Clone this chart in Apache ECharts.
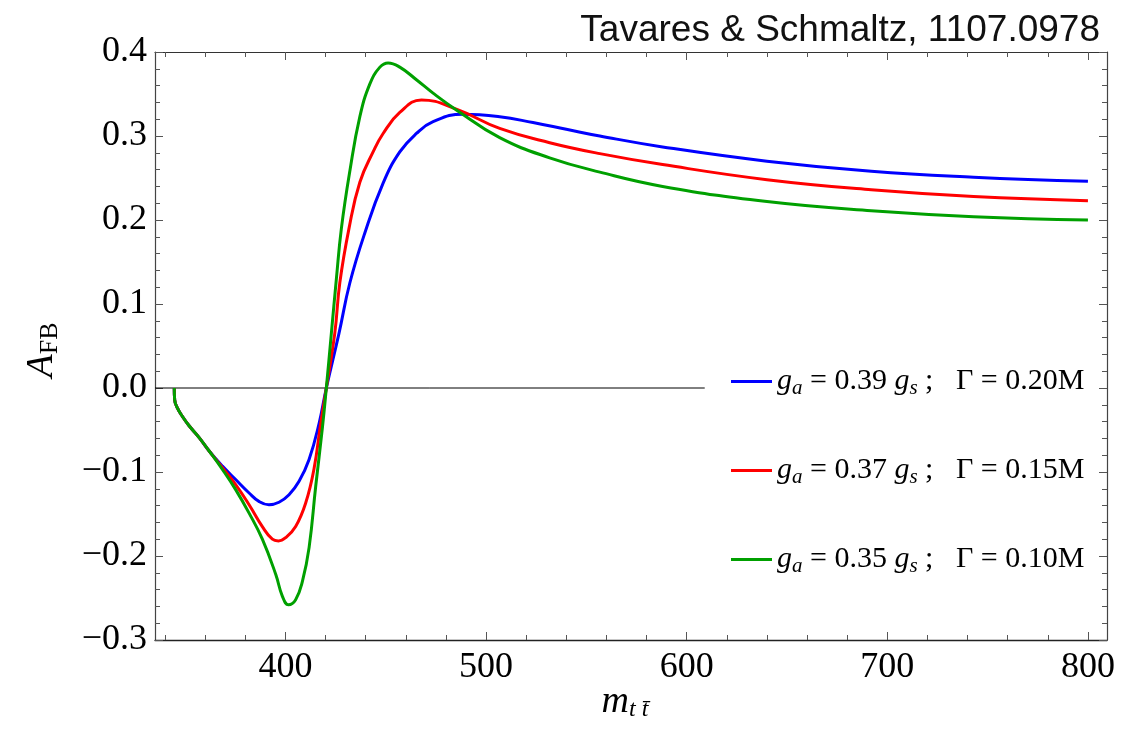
<!DOCTYPE html>
<html>
<head>
<meta charset="utf-8">
<script src="https://cdn.jsdelivr.net/npm/echarts@6/dist/echarts.min.js"></script>
<style>
  html, body { margin: 0; padding: 0; background: #fff; }
  #chart { width: 1143px; height: 733px; }
</style>
</head>
<body>
<div id="chart"></div>
<script>
// m_tt (GeV) vs A_FB
const blueCurve = [
  [344.6, 0], [344.8, -0.014], [346.2, -0.024], [348.7, -0.034], [352, -0.045], [357, -0.059],
  [362, -0.075], [368.6, -0.093], [375.2, -0.109], [381.9, -0.125], [386.8, -0.135], [391.8, -0.139],
  [396.8, -0.136], [401.8, -0.127], [406.8, -0.111], [411.8, -0.085], [416.8, -0.042], [420.4, 0],
  [426.7, 0.065], [432.1, 0.125], [439.5, 0.184], [448.7, 0.244], [457, 0.281], [465.3, 0.303],
  [473.6, 0.317], [488.5, 0.326], [506.8, 0.323], [523.4, 0.316], [540, 0.308], [556.7, 0.300],
  [588, 0.287], [640, 0.270], [692, 0.258], [743, 0.251], [800, 0.246]
];
const redCurve = [
  [344.6, 0], [344.8, -0.014], [346.2, -0.024], [348.7, -0.034], [352, -0.045], [357, -0.059],
  [362, -0.075], [368.6, -0.095], [375.2, -0.115], [381.9, -0.139], [388.5, -0.165], [393.5, -0.180],
  [396.5, -0.182], [400.2, -0.178], [405.1, -0.165], [410.1, -0.137], [414.2, -0.097], [417.6, -0.042],
  [420.4, 0], [424.6, 0.065], [427.1, 0.125], [431.7, 0.190], [437.1, 0.245], [443.7, 0.281],
  [448.7, 0.303], [457, 0.328], [467.8, 0.343], [485.2, 0.332], [506.8, 0.309], [531.7, 0.292],
  [556.7, 0.279], [588, 0.266], [640, 0.248], [692, 0.236], [743, 0.228], [800, 0.223]
];
const greenCurve = [
  [344.6, 0], [344.8, -0.014], [346.2, -0.024], [348.7, -0.034], [352, -0.045], [357, -0.059],
  [362, -0.075], [368.6, -0.097], [375.2, -0.121], [381.9, -0.149], [388.5, -0.180], [395.2, -0.222],
  [398.5, -0.248], [401.5, -0.258], [405.1, -0.252], [408.5, -0.230], [411.8, -0.190], [415.1, -0.117],
  [418.5, -0.046], [420.4, 0], [422.9, 0.065], [425.4, 0.130], [427.9, 0.190], [432.1, 0.258],
  [437.1, 0.323], [442.1, 0.362], [447.1, 0.382], [451.2, 0.387], [457, 0.382], [465.3, 0.367],
  [473.6, 0.351], [485.2, 0.331], [506.8, 0.298], [531.7, 0.274], [556.7, 0.257], [588, 0.240],
  [640, 0.222], [692, 0.211], [743, 0.204], [800, 0.200]
];
const zeroLine = [[335, 0], [609, 0]];

const seriesNames = [
  '{i|g}{sub|a}{r| = 0.39 }{i|g}{sub|s}{r| ;   Γ = 0.20M}',
  '{i|g}{sub|a}{r| = 0.37 }{i|g}{sub|s}{r| ;   Γ = 0.15M}',
  '{i|g}{sub|a}{r| = 0.35 }{i|g}{sub|s}{r| ;   Γ = 0.10M}'
];
const seriesColors = ['#0000FF', '#FF0000', '#00A000'];

const xMajorTicks = [400, 500, 600, 700, 800];
const xMinorTicks = [340, 360, 380, 420, 440, 460, 480, 520, 540, 560, 580,
  620, 640, 660, 680, 720, 740, 760, 780];

const serif = "'Liberation Serif', 'Times New Roman', serif";
const legendRich = {
  i: { fontFamily: serif, fontStyle: 'italic', fontSize: 30, color: '#000', lineHeight: 34 },
  r: { fontFamily: serif, fontSize: 30, color: '#000', lineHeight: 34 },
  sub: { fontFamily: serif, fontStyle: 'italic', fontSize: 21, color: '#000', lineHeight: 20, padding: [14, 0, 0, 0] }
};

function frameAxis (pos, values, len, showLine) {
  return {
    type: 'value', position: pos, min: 335, max: 809.5,
    axisLine: { show: showLine, onZero: false, lineStyle: { color: '#333', width: 1.2 } },
    axisTick: { show: true, inside: true, length: len, customValues: values, lineStyle: { color: '#555' } },
    axisLabel: { show: false },
    splitLine: { show: false }
  };
}

let myChart = echarts.init(document.getElementById('chart'));
let option = {
  backgroundColor: '#fff',
  animation: false,
  grid: { left: 155, right: 36, top: 52, bottom: 93, outerBoundsMode: 'none' },
  xAxis: [
    {
      type: 'value', position: 'bottom', min: 335, max: 809.5,
      axisLine: { onZero: false, lineStyle: { color: '#222', width: 1.3 } },
      axisTick: { inside: true, length: 8, customValues: xMajorTicks, lineStyle: { color: '#555' } },
      axisLabel: {
        customValues: xMajorTicks, margin: 10, color: '#000',
        fontFamily: serif, fontSize: 36
      },
      splitLine: { show: false }
    },
    frameAxis('bottom', xMinorTicks, 5, false),
    frameAxis('top', xMajorTicks, 8, true),
    frameAxis('top', xMinorTicks, 5, false)
  ],
  yAxis: [
    {
      type: 'value', position: 'left', min: -0.3, max: 0.4, interval: 0.1,
      axisLine: { show: true, onZero: false, lineStyle: { color: '#444', width: 1.2 } },
      axisTick: { inside: true, length: 8, lineStyle: { color: '#555' } },
      minorTick: { show: true, splitNumber: 5, length: 5, lineStyle: { color: '#555' } },
      axisLabel: {
        margin: 8, color: '#000', fontFamily: serif, fontSize: 36,
        formatter: v => (v < 0 ? '\u2212' : '') + Math.abs(v).toFixed(1)
      },
      splitLine: { show: false }
    },
    {
      type: 'value', position: 'right', min: -0.3, max: 0.4, interval: 0.1,
      axisLine: { show: true, onZero: false, lineStyle: { color: '#444', width: 1.2 } },
      axisTick: { inside: true, length: 8, lineStyle: { color: '#555' } },
      minorTick: { show: true, splitNumber: 5, length: 5, lineStyle: { color: '#555' } },
      axisLabel: { show: false },
      splitLine: { show: false }
    }
  ],
  legend: {
    data: seriesNames,
    orient: 'vertical',
    left: 726, top: 359,
    itemGap: 54,
    itemWidth: 41, itemHeight: 3,
    icon: 'rect',
    formatter: name => name,
    textStyle: { rich: legendRich, fontSize: 30 }
  },
  graphic: [
    {
      type: 'text', right: 43, top: 12,
      style: {
        text: 'Tavares & Schmaltz, 1107.0978',
        font: "300 37px 'Liberation Sans', Arial, sans-serif",
        fill: '#111'
      }
    },
    {
      type: 'text', x: 42, y: 350, rotation: Math.PI / 2,
      style: {
        text: '{a|A}{b|FB}',
        align: 'center', verticalAlign: 'middle',
        rich: {
          a: { fontFamily: serif, fontStyle: 'italic', fontSize: 38, lineHeight: 40, fill: '#000' },
          b: { fontFamily: serif, fontSize: 26, lineHeight: 26, padding: [16, 0, 0, 0], fill: '#000' }
        }
      }
    },
    {
      type: 'text', x: 625, y: 702,
      style: {
        text: '{a|m}{b|t t\u0304}',
        align: 'center', verticalAlign: 'middle',
        rich: {
          a: { fontFamily: serif, fontStyle: 'italic', fontSize: 38, lineHeight: 40, fill: '#000' },
          b: { fontFamily: serif, fontStyle: 'italic', fontSize: 24, lineHeight: 24, padding: [16, 0, 0, 0], fill: '#000' }
        }
      }
    }
  ],
  series: [
    {
      name: 'zero', type: 'line', data: zeroLine, symbol: 'none', silent: true,
      lineStyle: { color: '#000', width: 1 }
    },
    ...[blueCurve, redCurve, greenCurve].map((d, k) => ({
      name: seriesNames[k], type: 'line', data: d,
      symbol: 'none', smooth: 0.45,
      color: seriesColors[k],
      lineStyle: { color: seriesColors[k], width: 3 }
    }))
  ]
};
myChart.setOption(option);
window.onresize = myChart.resize;
</script>
</body>
</html>
